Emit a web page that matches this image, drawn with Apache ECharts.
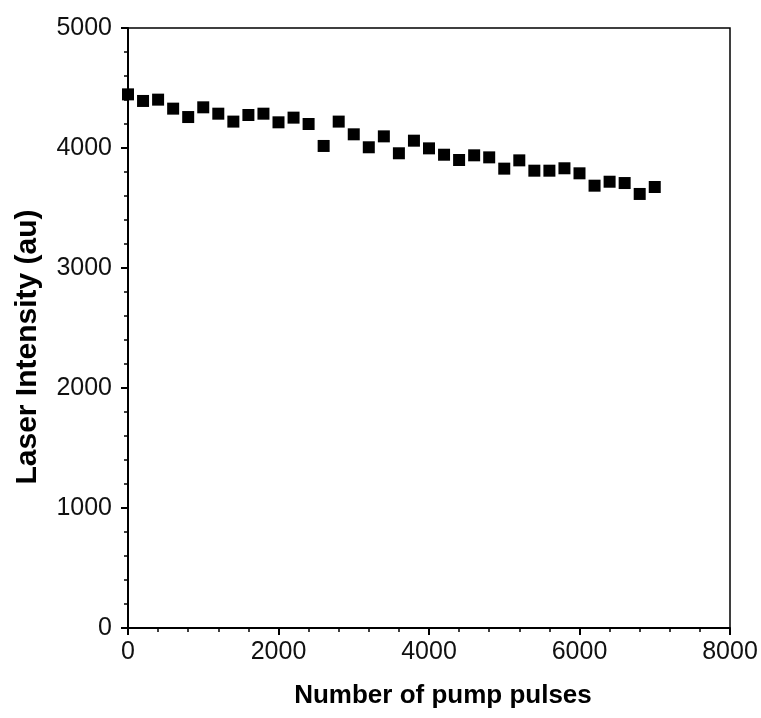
<!DOCTYPE html>
<html><head><meta charset="utf-8">
<script src="https://cdn.jsdelivr.net/npm/echarts@6/dist/echarts.min.js"></script>
<style>html,body{margin:0;padding:0;background:#fff}#c{width:761px;height:718px}</style>
</head><body><div id="c"></div>
<script>
const pulses = [0,200,400,600,800,1000,1200,1400,1600,1800,2000,2200,2400,2600,2800,3000,3200,3400,3600,3800,4000,4200,4400,4600,4800,5000,5200,5400,5600,5800,6000,6200,6400,6600,6800,7000];
const intensity = [4447,4392,4403,4328,4258,4339,4286,4220,4275,4286,4214,4253,4200,4017,4220,4114,4006,4097,3956,4061,3997,3944,3900,3939,3922,3828,3897,3811,3811,3831,3789,3686,3719,3708,3617,3675];
const xTitle = 'Number of pump pulses';
const yTitle = 'Laser Intensity (au)';
const chart = echarts.init(document.getElementById('c'));
const font = 'Liberation Sans, Arial, sans-serif';
chart.setOption({
  animation: false,
  grid: {left: 128, right: 31, top: 28, bottom: 90, show: true, borderColor: '#000', borderWidth: 1.5},
  xAxis: {
    type: 'value', min: 0, max: 8000, interval: 2000,
    name: xTitle, nameLocation: 'middle', nameGap: 55,
    nameTextStyle: {fontFamily: font, fontSize: 26, fontWeight: 'bold', color: '#000', padding: [0, 0, 0, 28]},
    axisLine: {show: true, lineStyle: {color: '#000', width: 2}},
    axisTick: {show: true, inside: false, length: 7, lineStyle: {color: '#000', width: 2}},
    minorTick: {show: true, splitNumber: 5, length: 4, lineStyle: {color: '#000', width: 1.5}},
    splitLine: {show: false},
    axisLabel: {fontFamily: font, fontSize: 25, color: '#111', margin: 12, formatter: v => String(v)}
  },
  yAxis: {
    type: 'value', min: 0, max: 5000, interval: 1000,
    name: yTitle, nameLocation: 'middle', nameGap: 85,
    nameTextStyle: {fontFamily: font, fontSize: 30, fontWeight: 'bold', color: '#000', padding: [0, 38, 0, 0]},
    axisLine: {show: true, lineStyle: {color: '#000', width: 2}},
    axisTick: {show: true, inside: false, length: 7, lineStyle: {color: '#000', width: 2}},
    minorTick: {show: true, splitNumber: 5, length: 4, lineStyle: {color: '#000', width: 1.5}},
    splitLine: {show: false},
    axisLabel: {fontFamily: font, fontSize: 25, color: '#111', margin: 16, formatter: v => String(v)}
  },
  series: [{
    type: 'scatter', symbol: 'rect', symbolSize: 12,
    itemStyle: {color: '#000', opacity: 1},
    data: pulses.map((p, i) => [p, intensity[i]])
  }]
});
</script></body></html>
